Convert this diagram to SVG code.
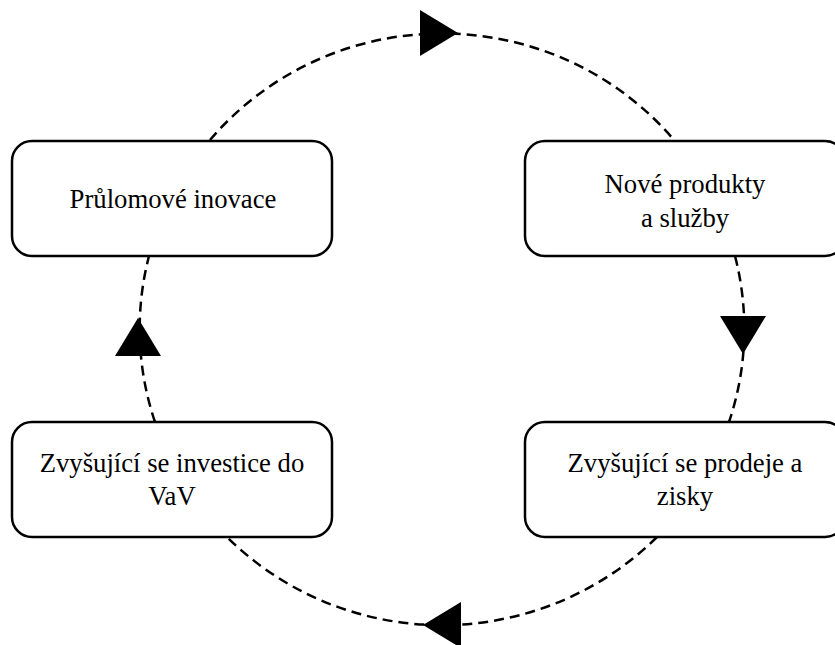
<svg xmlns="http://www.w3.org/2000/svg" xmlns:xlink="http://www.w3.org/1999/xlink" width="835" height="645" viewBox="0 0 835 645">
  <style>
    .box { fill: #ffffff; stroke: #000000; stroke-width: 2.5; }
    text { font-family: "Times New Roman", "Liberation Serif", Tinos, serif; font-size: 26.7px; fill: #000000; text-anchor: middle; }
    .arc { fill: none; stroke: #000000; stroke-width: 2.5; stroke-dasharray: 10 6; }
    .head { fill: #000000; stroke: none; }
  </style>
  <defs>
    <!-- filled triangle, tip at origin, pointing along +x -->
    <path id="head" d="M-38,-23 L0,0 L-38,23 Z"/>
  </defs>
  <rect width="835" height="645" fill="#ffffff"/>

  <g id="connectors">
    <path class="arc" d="M210,140 A302,296 0 0 1 674,140"/>
    <path class="arc" d="M735,256 A302,296 0 0 1 729,422"/>
    <path class="arc" d="M657,537 A302,296 0 0 1 227,537"/>
    <path class="arc" d="M155,422 A302,296 0 0 1 149,256"/>
    <use xlink:href="#head" class="head" transform="translate(458,33)"/>
    <use xlink:href="#head" class="head" transform="translate(743,354) rotate(90)"/>
    <use xlink:href="#head" class="head" transform="translate(423,625) rotate(180)"/>
    <use xlink:href="#head" class="head" transform="translate(138,318) rotate(-90)"/>
  </g>

  <g id="node-inovace">
    <rect class="box" x="12" y="141" width="320" height="115" rx="20" ry="20"/>
    <text x="173" y="208">Průlomové inovace</text>
  </g>

  <g id="node-produkty">
    <rect class="box" x="525" y="141" width="320" height="115" rx="20" ry="20"/>
    <text x="685" y="193">Nové produkty</text>
    <text x="685" y="227">a služby</text>
  </g>

  <g id="node-prodeje">
    <rect class="box" x="525" y="422" width="320" height="115" rx="20" ry="20"/>
    <text x="685" y="472">Zvyšující se prodeje a</text>
    <text x="685" y="505">zisky</text>
  </g>

  <g id="node-investice">
    <rect class="box" x="12" y="422" width="320" height="115" rx="20" ry="20"/>
    <text x="172" y="472">Zvyšující se investice do</text>
    <text x="172" y="505">VaV</text>
  </g>
</svg>
